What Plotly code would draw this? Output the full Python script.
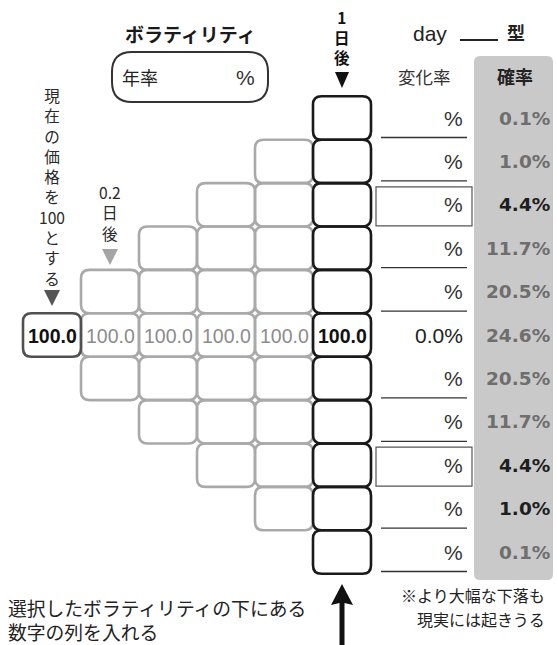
import plotly.graph_objects as go

# ---------------- data ----------------
row_ids = list(range(11))                      # price-tree rows, top to bottom
col_ids = list(range(6))                       # 0 = now, 5 = 1 day later
probabilities = [0.1, 1.0, 4.4, 11.7, 20.5, 24.6, 20.5, 11.7, 4.4, 1.0, 0.1]
prob_dark = [False, False, True, False, False, False, False, False, True, True, False]
start_values = [100.0, 100.0, 100.0, 100.0, 100.0, 100.0]   # middle row of the tree
mid_change = 0.0
boxed_rows = [2, 8]
lined_rows = [0, 1, 3, 4, 6, 7, 9, 10]

# ---------------- geometry ----------------
W, H = 557, 645
X0, DX = 52.0, 58.0
Y0, DY = 118.0, 43.4
HW, HH, RAD = 29.0, 21.7, 8.5
MID = 5

def cx(c):
    return X0 + DX * c

def cy(r):
    return Y0 + DY * r

def rrect(x0, y0, x1, y1, r):
    return (f"M {x0+r},{y0} L {x1-r},{y0} Q {x1},{y0} {x1},{y0+r} "
            f"L {x1},{y1-r} Q {x1},{y1} {x1-r},{y1} L {x0+r},{y1} "
            f"Q {x0},{y1} {x0},{y1-r} L {x0},{y0+r} Q {x0},{y0} {x0+r},{y0} Z")

LAT = "Liberation Sans, Arial, Noto Sans CJK JP, sans-serif"
DJV = "DejaVu Sans, sans-serif"
JP = "Noto Sans CJK JP, sans-serif"

shapes = []
ann = []

def text(x, y, s, size, color="#222", family=LAT, weight="normal", xanchor="center", align="center"):
    ann.append(dict(x=x, y=y, xref="x", yref="y", text=s, showarrow=False,
                    xanchor=xanchor, yanchor="middle", borderpad=0, align=align,
                    font=dict(size=size, color=color, family=family, weight=weight)))

# gray probability panel
shapes.append(dict(type="path", path=rrect(474, 56, 553, 580, 6),
                   fillcolor="#c9c9c9", line=dict(width=0), layer="below"))

# tree cells (gray middle columns first, then the start cell, then the 1-day column)
for c in col_ids[1:-1]:
    for r in row_ids:
        if abs(r - MID) <= c:
            shapes.append(dict(type="path",
                               path=rrect(cx(c) - HW, cy(r) - HH, cx(c) + HW, cy(r) + HH, RAD),
                               line=dict(color="#a9a9a9", width=2.6), fillcolor="rgba(0,0,0,0)"))
shapes.append(dict(type="path",
                   path=rrect(cx(0) - HW, cy(MID) - HH, cx(0) + HW, cy(MID) + HH, RAD),
                   line=dict(color="#505050", width=2.6), fillcolor="rgba(0,0,0,0)"))
cl = col_ids[-1]
for r in row_ids:
    shapes.append(dict(type="path",
                       path=rrect(cx(cl) - HW, cy(r) - HH, cx(cl) + HW, cy(r) + HH, RAD),
                       line=dict(color="#1a1a1a", width=2.6), fillcolor="rgba(0,0,0,0)"))

# middle-row values
for c, v in zip(col_ids, start_values):
    edge = c == 0 or c == cl
    text(cx(c), cy(MID) + 1, f"{v:.1f}", 19.5,
         color="#111" if edge else "#8c8c8c", weight="bold" if edge else "normal")

# change-rate column
for r in row_ids:
    if r == MID:
        text(464, cy(r), f"{mid_change:.1f}%", 21, color="#222", xanchor="right")
    else:
        text(464, cy(r), "%", 21, color="#333", xanchor="right")
    if r in lined_rows:
        shapes.append(dict(type="line", x0=381, x1=467, y0=cy(r) + 19.5, y1=cy(r) + 19.5,
                           line=dict(color="#333", width=1.3)))
    if r in boxed_rows:
        shapes.append(dict(type="rect", x0=376, x1=472, y0=cy(r) - 18, y1=cy(r) + 21,
                           line=dict(color="#555", width=1.2)))

# probability column
for r, p, d in zip(row_ids, probabilities, prob_dark):
    text(551, cy(r), f"{p:.1f}%", 18.5, color="#1e1e1e" if d else "#6e6e6e",
         family=DJV, weight="bold", xanchor="right")

# headers
text(190, 33, "ボラティリティ", 19, color="#1a1a1a", family=JP, weight="bold")
shapes.append(dict(type="path", path=rrect(112, 52, 268, 102, 20),
                   line=dict(color="#333", width=2), fillcolor="rgba(0,0,0,0)"))
text(140, 77, "年率", 18, family=JP)
text(245, 77, "%", 21, color="#333")

text(430, 33, "day", 21, color="#222")
shapes.append(dict(type="line", x0=460, x1=498, y0=40, y1=40, line=dict(color="#222", width=2)))
text(516, 32, "型", 18, color="#222", family=JP, weight="bold")
text(424, 76, "変化率", 17.5, color="#333", family=JP)
text(515, 76, "確率", 18, color="#222", family=JP, weight="bold")

# 1 day later label
text(cx(cl), 37, "1<br>日<br>後", 15.5, color="#111", family=JP, weight="bold")
shapes.append(dict(type="path", path=f"M {cx(cl)-7},72 L {cx(cl)+7},72 L {cx(cl)},88 Z",
                   fillcolor="#111", line=dict(width=0)))

# left vertical label
left_chars = ["現", "在", "の", "価", "格", "を", "100", "と", "す", "る"]
text(cx(0), 186, "<br>".join(left_chars), 15.6, color="#2a2a2a", family=JP)
shapes.append(dict(type="path", path=f"M {cx(0)-8},290 L {cx(0)+8},290 L {cx(0)},306 Z",
                   fillcolor="#555", line=dict(width=0)))

# 0.2 day label
text(cx(1), 212, "0.2<br>日<br>後", 15.6, color="#2a2a2a", family=JP)
shapes.append(dict(type="path", path=f"M {cx(1)-8},249 L {cx(1)+8},249 L {cx(1)},265 Z",
                   fillcolor="#a5a5a5", line=dict(width=0)))

# bottom arrow
shapes.append(dict(type="path",
                   path=f"M {cx(cl)},584 L {cx(cl)+11},605 L {cx(cl)+2.5},603 L {cx(cl)+2.5},645 "
                        f"L {cx(cl)-2.5},645 L {cx(cl)-2.5},603 L {cx(cl)-11},605 Z",
                   fillcolor="#111", line=dict(width=0)))

text(7, 619, "選択したボラティリティの下にある<br>数字の列を入れる", 18.8, color="#222",
     family=JP, xanchor="left", align="left")
text(546, 595, "※より大幅な下落も", 16, color="#222", family=JP, xanchor="right")
text(546, 618.5, "現実には起きうる", 16, color="#222", family=JP, xanchor="right")

fig = go.Figure()
fig.add_trace(go.Scatter(x=[0, W], y=[0, H], mode="markers", marker=dict(opacity=0),
                         hoverinfo="skip", showlegend=False))
fig.update_layout(width=W, height=H, margin=dict(l=0, r=0, t=0, b=0),
                  paper_bgcolor="white", plot_bgcolor="white",
                  xaxis=dict(range=[0, W], visible=False, fixedrange=True),
                  yaxis=dict(range=[H, 0], visible=False, fixedrange=True),
                  shapes=shapes, annotations=ann, showlegend=False)
fig.write_html("out.html", config={"displayModeBar": False},
               post_script="document.body.style.margin='0';document.body.style.overflow='hidden';")
